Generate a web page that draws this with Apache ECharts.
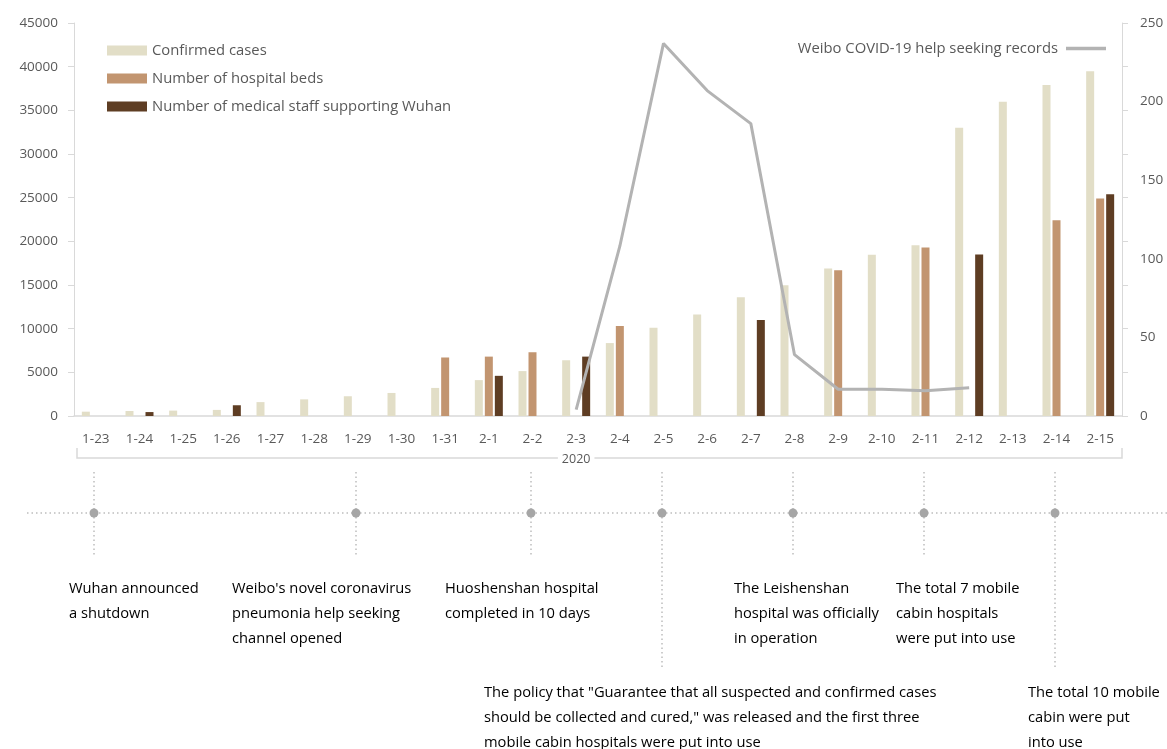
<!DOCTYPE html>
<html>
<head>
<meta charset="utf-8">
<script src="https://cdn.jsdelivr.net/npm/echarts@6/dist/echarts.min.js"></script>
<style>
  html, body { margin: 0; padding: 0; background: #fff; }
  #chart { width: 1167px; height: 749px; }
</style>
</head>
<body>
<div id="chart"></div>
<script>
// Daily dates (2020)
const dates = ['1-23','1-24','1-25','1-26','1-27','1-28','1-29','1-30','1-31','2-1','2-2','2-3',
               '2-4','2-5','2-6','2-7','2-8','2-9','2-10','2-11','2-12','2-13','2-14','2-15'];
const yearLabel = '2020';

// Confirmed cases in Wuhan
const confirmedCases = [495, 572, 618, 698, 1590, 1905, 2261, 2639, 3215, 4109, 5142, 6384,
                        8351, 10117, 11618, 13603, 14982, 16902, 18454, 19558, 32994, 35991, 37914, 39462];
// Number of hospital beds
const hospitalBeds = [null, null, null, null, null, null, null, null, 6700, 6800, 7300, null,
                      10300, null, null, null, null, 16700, null, 19300, null, null, 22400, 24900];
// Number of medical staff supporting Wuhan
const medicalStaff = [null, 450, null, 1230, null, null, null, null, null, 4600, null, 6800,
                      null, null, null, 11000, null, null, null, null, 18500, null, null, 25400];
// Weibo COVID-19 help seeking records (right axis)
const weiboRecords = [null, null, null, null, null, null, null, null, null, null, null, 4,
                      108, 237, 207, 186, 39, 17, 17, 16, 18, null, null, null];

// Axis ticks
const leftMax = 45000, leftStep = 5000;
const rightMax = 250, rightStep = 50;

// Timeline events under the chart
const eventDates = ['1-23', '1-29', '2-2', '2-5', '2-8', '2-11', '2-14'];
const eventTexts = [
  'Wuhan announced\na shutdown',
  "Weibo's novel coronavirus\npneumonia help seeking\nchannel opened",
  'Huoshenshan hospital\ncompleted in 10 days',
  'The policy that "Guarantee that all suspected and confirmed cases\nshould be collected and cured," was released and the first three\nmobile cabin hospitals were put into use',
  'The Leishenshan\nhospital was officially\nin operation',
  'The total 7 mobile\ncabin hospitals\nwere put into use',
  'The total 10 mobile\ncabin were put\ninto use'
];

const FONT = 'Open Sans';
const LABEL = '#595959';
const AXIS = '#d9d9d9';
const NAMES = ['Confirmed cases', 'Number of hospital beds', 'Number of medical staff supporting Wuhan',
               'Weibo COVID-19 help seeking records'];

const chart = echarts.init(document.getElementById('chart'), null, { renderer: 'canvas' });

const barBase = { type: 'bar', yAxisIndex: 0, barWidth: 8, barGap: '25%' };

chart.setOption({
  animation: false,
  textStyle: { fontFamily: FONT },
  grid: { left: 74, right: 45, top: 23, bottom: 333, containLabel: false },
  legend: [
    {
      data: NAMES.slice(0, 3), orient: 'vertical', left: 107, top: 43, padding: 0,
      itemWidth: 40, itemHeight: 10, itemGap: 13, icon: 'rect',
      textStyle: { color: LABEL, fontSize: 14.8, fontFamily: FONT }
    },
    {
      data: [{ name: NAMES[3], icon: 'rect', itemStyle: { color: '#b3b3b3' } }],
      right: 61, top: 41, align: 'right', padding: 0,
      itemWidth: 40, itemHeight: 3.5,
      textStyle: { color: LABEL, fontSize: 14.8, fontFamily: FONT, padding: [0, 3, 0, 0] }
    }
  ],
  xAxis: {
    type: 'category', data: dates, boundaryGap: true,
    axisLine: { lineStyle: { color: AXIS, width: 1.5 } },
    axisTick: { show: false },
    axisLabel: { color: LABEL, fontSize: 13.5, margin: 16, fontFamily: FONT }
  },
  yAxis: [
    {
      type: 'value', position: 'left', min: 0, max: leftMax, interval: leftStep,
      splitLine: { show: false },
      axisLine: { show: true, lineStyle: { color: AXIS } },
      axisTick: { show: true, length: 6, lineStyle: { color: AXIS } },
      axisLabel: { color: LABEL, fontSize: 13.5, margin: 16, fontFamily: FONT,
                   formatter: v => String(v) }
    },
    {
      type: 'value', position: 'right', min: 0, max: rightMax, interval: rightStep,
      splitLine: { show: false }, axisLine: { show: false }, axisTick: { show: false },
      axisLabel: { color: LABEL, fontSize: 13.5, margin: 18, fontFamily: FONT }
    },
    {
      // tick marks along the right axis line
      type: 'value', position: 'right', min: 0, max: leftMax, interval: leftStep,
      splitLine: { show: false },
      axisLine: { show: true, lineStyle: { color: AXIS } },
      axisTick: { show: true, length: 6, lineStyle: { color: AXIS } },
      axisLabel: { show: false }
    }
  ],
  series: [
    Object.assign({ name: NAMES[0], data: confirmedCases, itemStyle: { color: '#e2dec7' } }, barBase),
    Object.assign({ name: NAMES[1], data: hospitalBeds, itemStyle: { color: '#c29570' } }, barBase),
    Object.assign({ name: NAMES[2], data: medicalStaff, itemStyle: { color: '#5e3d23' } }, barBase),
    {
      name: NAMES[3], type: 'line', yAxisIndex: 1, data: weiboRecords,
      showSymbol: false, symbol: 'none', z: 5,
      lineStyle: { color: '#b3b3b3', width: 3 },
      itemStyle: { color: '#b3b3b3' }
    }
  ]
});

// Year bracket and event timeline, positioned from the category axis
function drawAnnotations() {
  const px = d => chart.convertToPixel({ xAxisIndex: 0 }, d);
  const x0 = px(dates[0]);
  const xN = px(dates[dates.length - 1]);
  const band = (xN - x0) / (dates.length - 1);
  const left = x0 - band / 2 + 3, right = xN + band / 2;
  const yearX = px(dates[Math.floor((dates.length - 1) / 2)]);

  const elements = [
    {
      type: 'polyline', silent: true,
      shape: { points: [[left, 448], [left, 458], [right, 458], [right, 448]] },
      style: { stroke: AXIS, lineWidth: 1.5, fill: null }
    },
    {
      type: 'text', silent: true, x: yearX, y: 459, z: 10,
      style: {
        text: yearLabel, fill: LABEL, font: '12.5px "' + FONT + '"',
        align: 'center', verticalAlign: 'middle',
        backgroundColor: '#fff', padding: [0, 4]
      }
    },
    {
      type: 'line', silent: true,
      shape: { x1: 27, y1: 513, x2: 1167, y2: 513 },
      style: { stroke: '#bdbdbd', lineWidth: 1.5, lineDash: [1.5, 3] }
    }
  ];

  // text offsets and stem lengths for each event
  const textDx = [-25, -124, -86, -178, -59, -28, -27];
  const longStem = [false, false, false, true, false, false, true];

  eventDates.forEach((d, i) => {
    const x = Math.round(px(d)) - 2;
    const yEnd = longStem[i] ? 667 : 557;
    elements.push({
      type: 'line', silent: true,
      shape: { x1: x, y1: 472, x2: x, y2: yEnd },
      style: { stroke: '#bdbdbd', lineWidth: 1.5, lineDash: [1.5, 3] }
    });
    elements.push({
      type: 'circle', silent: true, z: 5,
      shape: { cx: x, cy: 513, r: 4.5 },
      style: { fill: '#a6a6a6' }
    });
    elements.push({
      type: 'text', silent: true,
      x: x + textDx[i], y: longStem[i] ? 680 : 576,
      style: {
        text: eventTexts[i], fill: '#000', font: '14.7px "' + FONT + '"',
        lineHeight: 25, align: 'left', verticalAlign: 'top'
      }
    });
  });

  chart.setOption({ graphic: { elements: elements } });
}
drawAnnotations();
</script>
</body>
</html>
